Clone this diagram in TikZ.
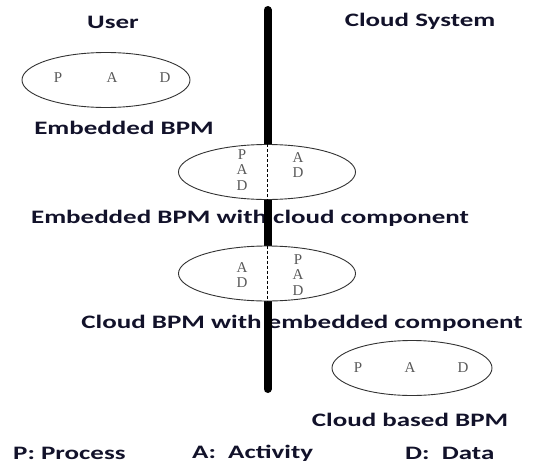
\documentclass[tikz,border=0pt]{standalone}
\usepackage{fontspec}
\setmainfont{Liberation Serif}
\newfontfamily\capfont[FakeStretch=1.42]{Carlito}
\usetikzlibrary{shapes.geometric,positioning}
\definecolor{inkblue}{RGB}{18,18,42}

\tikzset{
  bpm/.style={draw=black!80,ellipse,line width=0.9pt,fill=white,inner sep=0pt,minimum width=#1,minimum height=55pt},
  caption/.style={font=\capfont\fontsize{19}{22}\selectfont\bfseries,text=inkblue,inner sep=0pt},
  letter/.style={font=\fontsize{15}{15.5}\selectfont,text=black!65,inner sep=0pt,align=center},
  divider/.style={line width=8pt,line cap=round},
  split/.style={line width=1pt,dash pattern=on 3pt off 2pt}
}

\begin{document}
\begin{tikzpicture}[x=1pt,y=-1pt]
	\useasboundingbox (0,0) rectangle (541,466);
	% headings and captions
	\node (user) [caption] at (113,22) {User};
	\node (cloud) [caption] at (420,21) {Cloud System};
	\node (embcap) [caption] at (124,128) {Embedded BPM};
	\node (mixcap) [caption] at (250,218) {Embedded BPM with cloud component};
	\node (cldmixcap) [caption] at (302,323) {Cloud BPM with embedded component};
	\node (cldcap) [caption] at (410,420) {Cloud based BPM};
	\node (keyp) [caption,anchor=west] at (13,453) {P: Process};
	\node (keya) [caption,anchor=west] at (192,453) {A:\ \ Activity};
	\node (keyd) [caption,anchor=west] at (405,453) {D:\ \ Data};
	% the border between user and cloud
	\coordinate (top) at (267.5,10);
	\coordinate (bottom) at (267.5,389);
	\draw [divider] (top) -- (bottom);
	% embedded BPM
	\node (emb) [bpm=168pt] at (106,80) {};
	\node (embp) [letter] at (58,78) {P};
	\node (emba) [letter] at (112,78) {A};
	\node (embd) [letter] at (165,78) {D};
	% embedded BPM with cloud component
	\node (mix) [bpm=177pt] at (267,172) {};
	\draw [split] (mix.north) -- (mix.south);
	\node (mixuser) [letter] at (242,170) {P\\A\\D};
	\node (mixcloud) [letter] at (298,165) {A\\D};
	% cloud BPM with embedded component
	\node (cldmix) [bpm=177pt] at (267,273.5) {};
	\draw [split] (cldmix.north) -- (cldmix.south);
	\node (cldmixuser) [letter] at (242,275) {A\\D};
	\node (cldmixcloud) [letter] at (298,275) {P\\A\\D};
	% cloud based BPM
	\node (cld) [bpm=160pt] at (412,368) {};
	\node (cldp) [letter] at (358,368) {P};
	\node (clda) [letter] at (410,368) {A};
	\node (cldd) [letter] at (463,368) {D};
\end{tikzpicture}
\end{document}
